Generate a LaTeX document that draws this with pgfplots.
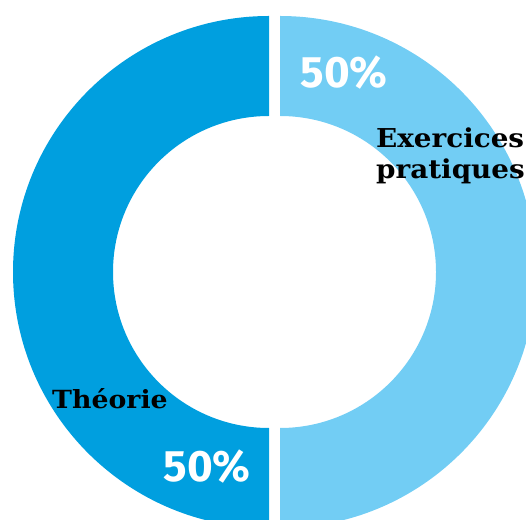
\documentclass[border=0pt]{standalone}
\usepackage{pgfplots}
\pgfplotsset{compat=1.18}
\usepackage{pgfplotstable}
\usepackage{fontspec}
\newfontfamily\slab[FakeStretch=1.07]{DejaVu Serif}
\newfontfamily\numfont{Fira Sans}
\definecolor{theorie}{HTML}{009FDF}
\definecolor{pratique}{HTML}{72CDF4}

% share of each part, in percent
\pgfplotstableread{
label value
Theorie 50
Exercices 50
}\shares

\begin{document}
\begin{tikzpicture}
\pgfplotstablegetelem{0}{value}\of\shares \let\vA\pgfplotsretval
\pgfplotstablegetelem{1}{value}\of\shares \let\vB\pgfplotsretval
\pgfmathsetmacro\angB{90-360*(\vB/(\vA+\vB))}
\pgfmathsetmacro\angA{90+360*(\vA/(\vA+\vB))}
\begin{axis}[x=1pt, y=1pt, xmin=0, xmax=526, ymin=0, ymax=519,
  scale only axis, hide axis, clip=true]
  % Exercices pratiques (right)
  \fill[pratique] (axis cs:280,247) ++(90:256pt)
    arc[start angle=90, end angle=\angB, radius=256pt]
    -- ++(\angB:-100pt)
    arc[start angle=\angB, end angle=90, radius=156pt] -- cycle;
  % Theorie (left)
  \fill[theorie] (axis cs:269,247) ++(90:256pt)
    arc[start angle=90, end angle=\angA, radius=256pt]
    -- ++(\angA:-100pt)
    arc[start angle=\angA, end angle=90, radius=156pt] -- cycle;

  \node[anchor=base west, font=\slab\bfseries\fontsize{26}{30}\selectfont, inner sep=0pt]
    at (axis cs:376,371) {Exercices};
  \node[anchor=base west, font=\slab\bfseries\fontsize{26}{30}\selectfont, inner sep=0pt]
    at (axis cs:376,340) {pratiques};
  \node[anchor=base west, font=\slab\bfseries\fontsize{25}{30}\selectfont, inner sep=0pt]
    at (axis cs:52,111) {Théorie};

  \node[white, font=\numfont\bfseries\fontsize{44}{44}\selectfont, inner sep=0pt]
    at (axis cs:344,446) {\vB\%};
  \node[white, font=\numfont\bfseries\fontsize{44}{44}\selectfont, inner sep=0pt]
    at (axis cs:207,52) {\vA\%};
\end{axis}
\pgfresetboundingbox
\path (current axis.south west) rectangle (current axis.north east);
\end{tikzpicture}
\end{document}
